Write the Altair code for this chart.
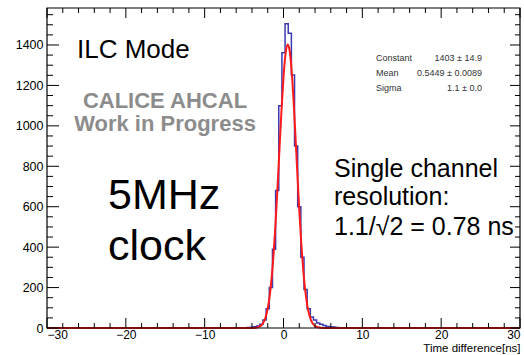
import altair as alt
import pandas as pd

# Histogram (bin centres, 0.4 ns bins) and counts
bin_centers = [-4.4, -4.0, -3.6, -3.2, -2.8, -2.4, -2.0, -1.6, -1.2, -0.8,
               -0.4, 0.0, 0.4, 0.8, 1.2, 1.6, 2.0, 2.4, 2.8, 3.2,
               3.6, 4.0, 4.4, 4.8, 5.2, 5.6, 6.0, 6.4, 6.8]
counts = [2, 4, 6, 10, 18, 40, 95, 200, 390, 680,
          1100, 1362, 1505, 1458, 1252, 900, 600, 350, 190, 95,
          55, 40, 25, 18, 12, 8, 6, 5, 2]
bin_width = 0.4

# Gaussian fit curve, sampled
fit_x = [-30, -5, -4, -3.5, -3, -2.75, -2.5, -2.25, -2, -1.75, -1.5, -1.25, -1,
         -0.75, -0.5, -0.25, 0, 0.25, 0.5, 0.75, 1.0, 1.25, 1.5, 1.75, 2.0,
         2.25, 2.5, 2.75, 3.0, 3.25, 3.5, 3.75, 4.0, 4.5, 5, 6, 30]
fit_y = [0, 0, 0.3, 1.6, 7.8, 15.8, 30.4, 55.6, 96.6, 159, 249, 371, 523,
         702, 894, 1080, 1241, 1353, 1402, 1379, 1288, 1143, 962, 770, 585,
         422, 289, 188, 116, 68, 38, 20, 10, 2.2, 0.4, 0, 0]

x_major = [-30, -20, -10, 0, 10, 20, 30]
x_minor = [v for v in range(-30, 31, 2) if v % 10 != 0]
y_major = [0, 200, 400, 600, 800, 1000, 1200, 1400]
y_minor = [v for v in range(0, 1551, 50) if v % 200 != 0]

stats_names = ["Constant", "Mean", "Sigma"]
stats_values = ["1403 ± 14.9", "0.5449 ± 0.0089", "1.1 ± 0.0"]

W, H = 473, 320
FONT = "Liberation Sans"

# step outline rows
hx = [-30.0]
hy = [0]
for c, n in zip(bin_centers, counts):
    hx.append(round(c - bin_width / 2, 3))
    hy.append(n)
hx += [round(bin_centers[-1] + bin_width / 2, 3), 30.0]
hy += [0, 0]
hist_df = pd.DataFrame({"x": hx, "y": hy})
fit_df = pd.DataFrame({"x": fit_x, "y": fit_y})

xs = alt.Scale(domain=[-30, 30], nice=False, zero=False)
ys = alt.Scale(domain=[0, 1583], nice=False)

x_axis = alt.Axis(
    values=x_major, ticks=False, domain=False, grid=False, format="d",
    labelFont=FONT, labelFontSize=12, labelColor="black", labelPadding=1,
    title="Time difference[ns]", titleFont=FONT, titleFontSize=11.5,
    titleFontWeight="normal", titleColor="black", titleAlign="right",
    titleAnchor="end", titleX=W, titleY=14, titleBaseline="top")
y_axis = alt.Axis(
    values=y_major, ticks=False, domain=False, grid=False, format="d",
    labelFont=FONT, labelFontSize=12.5, labelColor="black", labelPadding=4,
    title=None)

X = lambda f: alt.X(f, scale=xs, axis=x_axis, title="Time difference[ns]")
Y = lambda f: alt.Y(f, scale=ys, axis=y_axis, title=None)

hist = alt.Chart(hist_df).mark_line(
    interpolate="step-after", color="#3a3ab0", strokeWidth=1.5
).encode(x=X("x:Q"), y=Y("y:Q"))

fit = alt.Chart(fit_df).mark_line(
    interpolate="monotone", color="#ff1a1a", strokeWidth=2
).encode(x=X("x:Q"), y=Y("y:Q"))


def xticks(vals, y0, y1):
    return alt.Chart(pd.DataFrame({"v": vals})).mark_rule(
        color="black", strokeWidth=1).encode(
        x=X("v:Q"), y=alt.value(y0), y2=alt.value(y1))


def yticks(vals, x0, x1):
    return alt.Chart(pd.DataFrame({"v": vals})).mark_rule(
        color="black", strokeWidth=1).encode(
        y=Y("v:Q"), x=alt.value(x0), x2=alt.value(x1))


ticks = [
    xticks(x_major, H, H - 10), xticks(x_minor, H, H - 5),
    xticks(x_major, 0, 10), xticks(x_minor, 0, 5),
    yticks(y_major, 0, 12), yticks(y_minor, 0, 6),
    yticks(y_major, W, W - 10), yticks(y_minor, W, W - 5),
]

frame = alt.Chart(pd.DataFrame({"k": [0]})).mark_rect(
    fill=None, stroke="black", strokeWidth=1.2
).encode(x=alt.value(0), x2=alt.value(W), y=alt.value(0), y2=alt.value(H))


def txt(s, x, y, size, color="black", weight="normal", align="left", font=FONT):
    return alt.Chart(pd.DataFrame({"t": [s]})).mark_text(
        align=align, baseline="alphabetic", fontSize=size, font=font,
        fontWeight=weight, color=color
    ).encode(x=alt.value(x), y=alt.value(y), text="t:N")


texts = [
    txt("ILC Mode", 30, 50, 26),
    txt("CALICE AHCAL", 118, 100, 22, color="#8c8c8c", weight="bold", align="center"),
    txt("Work in Progress", 118, 123, 22, color="#8c8c8c", weight="bold", align="center"),
    txt("5MHz", 61, 201, 43),
    txt("clock", 61, 252, 43),
    txt("Single channel", 287, 169, 25),
    txt("resolution:", 287, 197, 25),
    txt("1.1/√2 = 0.78 ns", 287, 227, 25),
]
for i, (nm, val) in enumerate(zip(stats_names, stats_values)):
    texts.append(txt(nm, 329, 53 + 15 * i, 9, color="#333333"))
    texts.append(txt(val, 435, 53 + 15 * i, 9, color="#333333", align="right"))

chart = alt.layer(hist, fit, *ticks, frame, *texts).properties(
    width=W, height=H,
    autosize=alt.AutoSizeParams(type="none"),
    padding={"left": 47, "top": 8, "right": 4, "bottom": 27},
    background="white",
).configure_view(stroke=None)

chart.save("out.html", embed_options={"renderer": "svg", "actions": False})
